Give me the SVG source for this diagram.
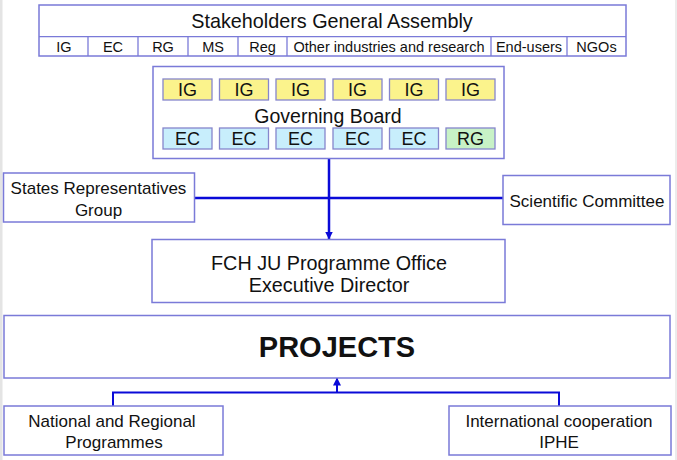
<svg xmlns="http://www.w3.org/2000/svg" width="677" height="460" viewBox="0 0 677 460">
<defs>
<style>
.box{fill:#ffffff;stroke:#7a7ad8;stroke-width:1.5}
.cell{stroke:#8686cc;stroke-width:1.3}
.ig{fill:#fbf38c}
.ec{fill:#c8eefc}
.rg{fill:#c8f2c6}
.t{font-family:"Liberation Sans",Arial,sans-serif;fill:#111;text-anchor:middle}
.conn{stroke:#0a0ad8;fill:none}
</style>
<marker id="ah" viewBox="0 0 8 8" refX="7.5" refY="4" markerWidth="8" markerHeight="8" markerUnits="userSpaceOnUse" orient="auto">
<path d="M0,0 L8,4 L0,8 Z" fill="#0a0ad8"/>
</marker>
</defs>
<rect x="0" y="0" width="677" height="460" fill="#ffffff"/>
<rect x="0" y="0" width="2.5" height="460" fill="#e4e4e4"/>
<rect x="675" y="0" width="2" height="460" fill="#ececec"/>

<g id="connectors">
<line class="conn" x1="195" y1="198" x2="503" y2="198" stroke-width="2.5"/>
<line class="conn" x1="329" y1="159" x2="329" y2="239" stroke-width="2.5" marker-end="url(#ah)"/>
<polyline class="conn" points="113,406 113,392.5 559,392.5 559,406" stroke-width="2"/>
<line class="conn" x1="337" y1="392.5" x2="337" y2="378" stroke-width="2" marker-end="url(#ah)"/>
</g>

<g id="assembly">
<rect class="box" x="39" y="5" width="587" height="51"/>
<line x1="39" y1="36.7" x2="626" y2="36.7" stroke="#7a7ad8" stroke-width="1.3"/>
<g stroke="#7a7ad8" stroke-width="1.3">
<line x1="88" y1="36.7" x2="88" y2="56"/>
<line x1="138" y1="36.7" x2="138" y2="56"/>
<line x1="188" y1="36.7" x2="188" y2="56"/>
<line x1="238" y1="36.7" x2="238" y2="56"/>
<line x1="287" y1="36.7" x2="287" y2="56"/>
<line x1="491" y1="36.7" x2="491" y2="56"/>
<line x1="567" y1="36.7" x2="567" y2="56"/>
</g>
<text class="t" x="332" y="27.5" font-size="19.8">Stakeholders General Assembly</text>
<g font-size="14.5">
<text class="t" x="64" y="51.5">IG</text>
<text class="t" x="113" y="51.5">EC</text>
<text class="t" x="163" y="51.5">RG</text>
<text class="t" x="213" y="51.5">MS</text>
<text class="t" x="262.5" y="51.5">Reg</text>
<text class="t" x="389" y="51.5">Other industries and research</text>
<text class="t" x="529" y="51.5">End-users</text>
<text class="t" x="596.5" y="51.5">NGOs</text>
</g>
</g>

<g id="governing-board">
<rect class="box" x="153" y="66.5" width="351" height="92"/>
<g font-size="18">
<rect class="cell ig" x="163" y="79" width="49" height="21"/>
<rect class="cell ig" x="219.5" y="79" width="49" height="21"/>
<rect class="cell ig" x="276" y="79" width="49" height="21"/>
<rect class="cell ig" x="333" y="79" width="49" height="21"/>
<rect class="cell ig" x="389.5" y="79" width="49" height="21"/>
<rect class="cell ig" x="446" y="79" width="49" height="21"/>
<text class="t" x="187.5" y="96">IG</text>
<text class="t" x="244" y="96">IG</text>
<text class="t" x="300.5" y="96">IG</text>
<text class="t" x="357.5" y="96">IG</text>
<text class="t" x="414" y="96">IG</text>
<text class="t" x="470.5" y="96">IG</text>
<rect class="cell ec" x="163" y="128" width="49" height="21"/>
<rect class="cell ec" x="219.5" y="128" width="49" height="21"/>
<rect class="cell ec" x="276" y="128" width="49" height="21"/>
<rect class="cell ec" x="333" y="128" width="49" height="21"/>
<rect class="cell ec" x="389.5" y="128" width="49" height="21"/>
<rect class="cell rg" x="446" y="128" width="49" height="21"/>
<text class="t" x="187.5" y="145">EC</text>
<text class="t" x="244" y="145">EC</text>
<text class="t" x="300.5" y="145">EC</text>
<text class="t" x="357.5" y="145">EC</text>
<text class="t" x="414" y="145">EC</text>
<text class="t" x="470.5" y="145">RG</text>
</g>
<text class="t" x="328" y="122.5" font-size="19.5">Governing Board</text>
</g>

<g id="states-representatives">
<rect class="box" x="3.5" y="173" width="191" height="49"/>
<text class="t" x="98.5" y="194" font-size="17">States Representatives</text>
<text class="t" x="98.5" y="216" font-size="17">Group</text>
</g>

<g id="scientific-committee">
<rect class="box" x="503" y="175.5" width="167" height="49"/>
<text class="t" x="587" y="207" font-size="17">Scientific Committee</text>
</g>

<g id="programme-office">
<rect class="box" x="152" y="239.5" width="353" height="63"/>
<text class="t" x="329" y="270" font-size="19.8">FCH JU Programme Office</text>
<text class="t" x="329" y="292" font-size="19.8">Executive Director</text>
</g>

<g id="projects">
<rect class="box" x="4" y="315.5" width="666" height="62.5"/>
<text class="t" x="337" y="357" font-size="29" font-weight="bold">PROJECTS</text>
</g>

<g id="national-programmes">
<rect class="box" x="4" y="406" width="219" height="49"/>
<text class="t" x="112" y="427" font-size="17">National and Regional</text>
<text class="t" x="114" y="447.5" font-size="17">Programmes</text>
</g>

<g id="international-cooperation">
<rect class="box" x="449" y="406" width="222" height="49"/>
<text class="t" x="559" y="427" font-size="17">International cooperation</text>
<text class="t" x="559" y="447.5" font-size="17">IPHE</text>
</g>
</svg>
